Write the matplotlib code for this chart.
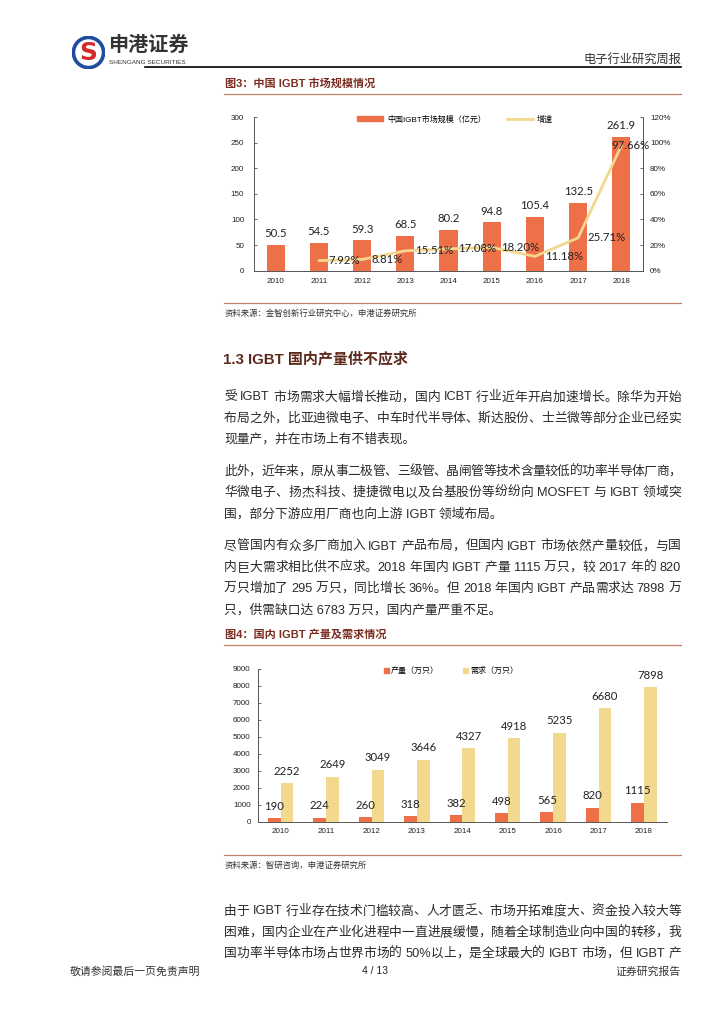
import numpy as np
import matplotlib
matplotlib.use('Agg')
import matplotlib.pyplot as plt
from matplotlib.patches import Patch, Circle
from matplotlib.lines import Line2D
from matplotlib.ticker import FuncFormatter

# ---------------- data ----------------
years = ['2010', '2011', '2012', '2013', '2014', '2015', '2016', '2017', '2018']
market_size = [50.5, 54.5, 59.3, 68.5, 80.2, 94.8, 105.4, 132.5, 261.9]
growth_years = ['2011', '2012', '2013', '2014', '2015', '2016', '2017', '2018']
growth_pct = [7.92, 8.81, 15.51, 17.08, 18.20, 11.18, 25.71, 97.66]
production = [190, 224, 260, 318, 382, 498, 565, 820, 1115]
demand = [2252, 2649, 3049, 3646, 4327, 4918, 5235, 6680, 7898]
left1_ticks = [0, 50, 100, 150, 200, 250, 300]
right1_ticks = [0, 20, 40, 60, 80, 100, 120]
left2_ticks = [0, 1000, 2000, 3000, 4000, 5000, 6000, 7000, 8000, 9000]

legend1 = ['中国IGBT市场规模（亿元）', '增速']
legend2 = ['产量（万只）', '需求（万只）']

para1 = ["受 IGBT 市场需求大幅增长推动，国内 ICBT 行业近年开启加速增长。除华为开始",
         "布局之外，比亚迪微电子、中车时代半导体、斯达股份、士兰微等部分企业已经实",
         "现量产，并在市场上有不错表现。"]
para2 = ["此外，近年来，原从事二极管、三级管、晶闸管等技术含量较低的功率半导体厂商，",
         "华微电子、扬杰科技、捷捷微电以及台基股份等纷纷向 MOSFET 与 IGBT 领域突",
         "围，部分下游应用厂商也向上游 IGBT 领域布局。"]
para3 = ["尽管国内有众多厂商加入 IGBT 产品布局，但国内 IGBT 市场依然产量较低，与国",
         "内巨大需求相比供不应求。2018 年国内 IGBT 产量 1115 万只，较 2017 年的 820",
         "万只增加了 295 万只，同比增长 36%。但 2018 年国内 IGBT 产品需求达 7898 万",
         "只，供需缺口达 6783 万只，国内产量严重不足。"]
para4 = ["由于 IGBT 行业存在技术门槛较高、人才匮乏、市场开拓难度大、资金投入较大等",
         "困难，国内企业在产业化进程中一直进展缓慢，随着全球制造业向中国的转移，我",
         "国功率半导体市场占世界市场的 50%以上，是全球最大的 IGBT 市场，但 IGBT 产"]

# ---------------- style ----------------
plt.rcParams['font.family'] = ['Liberation Sans', 'Noto Sans CJK SC']
ORANGE = '#EE7049'
YELLOW_BAR = '#F2D98D'
YELLOW_LINE = '#F3D78E'
SPINE = '#555555'
TITLE_COL = '#7B2C20'
HEAD_COL = '#5C2A1C'
RULE_COL = '#C0806A'
BODY_COL = '#2A2A2A'
LABEL_FONT = ['Lato', 'DejaVu Sans']
TICK_SIZE = 5.8

W, H = 724, 1024
fig = plt.figure(figsize=(7.24, 10.24), dpi=100)


def fx(x):
    return x / W


def fy(y):
    return 1 - y / H


def ftext(x, y, s, **kw):
    return fig.text(fx(x), fy(y), s, **kw)


def hline(x0, x1, y, color, lw):
    fig.add_artist(Line2D([fx(x0), fx(x1)], [fy(y), fy(y)], color=color, lw=lw,
                          transform=fig.transFigure))


# ---------------- header ----------------
axl = fig.add_axes([fx(72), fy(69), 33 / W, 33 / H])
axl.set_xlim(-1, 1)
axl.set_ylim(-1, 1)
axl.axis('off')
axl.add_patch(Circle((0, 0), 0.98, color='#1F4C9E'))
axl.add_patch(Circle((0, 0), 0.76, color='white'))
axl.text(0, -0.04, 'S', ha='center', va='center', fontsize=18, fontweight='bold',
         color='#D42A2A', family='DejaVu Sans')

ftext(108, 44, '申港证券', fontsize=14.5, fontweight='bold', color='#333333',
      va='center', ha='left', family=['Noto Sans CJK SC'])
ftext(109, 63, 'SHENGANG SECURITIES', fontsize=4.6, color='#333333', va='center', ha='left')
ftext(681, 59.5, '电子行业研究周报', fontsize=8.8, color='#333333', va='center', ha='right')
hline(145, 681, 67.3, 'black', 1.2)

# ---------------- figure 3 ----------------
ftext(225, 83.5, '图3：中国 IGBT 市场规模情况', fontsize=8, fontweight='bold',
      color=TITLE_COL, va='center', ha='left')
hline(224, 681, 93.5, RULE_COL, 0.9)

ax1 = fig.add_axes([fx(254), fy(270.7), (643 - 254) / W, (270.7 - 117) / H])
xpos = np.arange(len(years))
ax1.bar(xpos, market_size, width=0.42, color=ORANGE, zorder=2)
ax1.set_xlim(-0.5, len(years) - 0.5)
ax1.set_ylim(0, 300)
ax1.set_yticks(left1_ticks)
ax1.set_xticks(xpos, years)
ax1.tick_params(axis='y', direction='in', length=2.5, width=0.6, color=SPINE,
                labelcolor='#222222', labelsize=TICK_SIZE, pad=7)
ax1.tick_params(axis='x', length=0, labelcolor='#222222', labelsize=TICK_SIZE, pad=5)
for s in ['top', 'right']:
    ax1.spines[s].set_visible(False)
for s in ['left', 'bottom']:
    ax1.spines[s].set_color(SPINE)
    ax1.spines[s].set_linewidth(0.7)
for i, v in enumerate(market_size):
    ax1.annotate(f'{v}', (xpos[i], v), xytext=(0, 8), textcoords='offset points',
                 ha='center', va='center', fontsize=8.2, color='#222222', family=LABEL_FONT)

ax2 = ax1.twinx()
ax2.set_ylim(0, 120)
ax2.set_yticks(right1_ticks)
ax2.yaxis.set_major_formatter(FuncFormatter(lambda v, _: f'{v:.0f}%'))
ax2.tick_params(axis='y', direction='in', length=2.5, width=0.6, color=SPINE,
                labelcolor='#222222', labelsize=TICK_SIZE, pad=5)
for s in ['top', 'left', 'bottom']:
    ax2.spines[s].set_visible(False)
ax2.spines['right'].set_color(SPINE)
ax2.spines['right'].set_linewidth(0.7)
gx = [years.index(y) for y in growth_years]
ax2.plot(gx, growth_pct, color=YELLOW_LINE, lw=2, solid_capstyle='round',
         solid_joinstyle='round', zorder=3)
for j, (xg, g) in enumerate(zip(gx, growth_pct)):
    if j == len(growth_pct) - 1:
        ax2.annotate(f'{g:.2f}%', (xg, g), xytext=(6.5, 0), textcoords='offset points',
                     ha='center', va='center', fontsize=8.2, color='#222222', family=LABEL_FONT)
    else:
        ax2.annotate(f'{g:.2f}%', (xg, g), xytext=(7, 0), textcoords='offset points',
                     ha='left', va='center', fontsize=8.2, color='#222222', family=LABEL_FONT)

h1 = [Patch(color=ORANGE, label=legend1[0]),
      Line2D([], [], color=YELLOW_LINE, lw=2, label=legend1[1])]
ax2.legend(handles=h1, loc='center', bbox_to_anchor=(fx(455), fy(119.5)),
           bbox_transform=fig.transFigure, ncol=2, frameon=False,
           prop={'size': 5.8}, handlelength=3.2, handleheight=0.6,
           columnspacing=2.6, handletextpad=0.5, borderpad=0)

hline(224, 681, 303.3, RULE_COL, 0.9)
ftext(225, 313.5, '资料来源：金智创新行业研究中心，申港证券研究所', fontsize=6,
      color='#333333', va='center', ha='left', style='italic')

# ---------------- section heading ----------------
ftext(223, 358.5, '1.3 IGBT 国内产量供不应求', fontsize=10.8, fontweight='bold',
      color=HEAD_COL, va='center', ha='left')

# ---------------- body text with justification ----------------
BODY_SIZE = 9.2
X0, X1 = 224, 681
renderer = fig.canvas.get_renderer()


def ink_width(s):
    t = fig.text(0, 0, s, fontsize=BODY_SIZE)
    w = t.get_window_extent(renderer=renderer).width
    t.remove()
    return w


def tokens_of(s):
    toks = []
    i, n = 0, len(s)
    while i < n:
        j = i
        while j < n and s[j] == ' ':
            j += 1
        if j >= n:
            break
        if s[j].isascii():
            k = j
            while k < n and s[k].isascii() and s[k] != ' ':
                k += 1
        else:
            k = j + 1
        toks.append((i, k))
        i = k
    return toks


def body_line(s, yc, justify=True):
    yb = yc + 4.5
    if not justify:
        ftext(X0, yb, s, fontsize=BODY_SIZE, color=BODY_COL, ha='left', va='baseline')
        return
    toks = tokens_of(s)
    ends = [ink_width(s[:e]) for (_, e) in toks]
    gap = ((X1 - X0) - ends[-1]) / (len(toks) - 1)
    for i, ((b, e), we) in enumerate(zip(toks, ends)):
        piece = s[b:e].strip()
        ftext(X0 + we + i * gap, yb, piece, fontsize=BODY_SIZE, color=BODY_COL,
              ha='right', va='baseline')


def paragraph(lines, y0, step=21.3, last_full=False):
    for k, ln in enumerate(lines):
        just = (k < len(lines) - 1) or last_full
        body_line(ln, y0 + k * step, justify=just)


paragraph(para1, 396)
paragraph(para2, 470.5)
paragraph(para3, 545)
paragraph(para4, 910, last_full=True)

# ---------------- figure 4 ----------------
ftext(225, 635, '图4：国内 IGBT 产量及需求情况', fontsize=8, fontweight='bold',
      color=TITLE_COL, va='center', ha='left')
hline(224, 681, 645, RULE_COL, 0.9)

ax3 = fig.add_axes([fx(258), fy(821.7), (666.7 - 258) / W, (821.7 - 668.5) / H])
bw = 0.28
ax3.bar(xpos - bw / 2, production, width=bw, color=ORANGE, zorder=2)
ax3.bar(xpos + bw / 2, demand, width=bw, color=YELLOW_BAR, zorder=2)
ax3.set_xlim(-0.5, len(years) - 0.5)
ax3.set_ylim(0, 9000)
ax3.set_yticks(left2_ticks)
ax3.set_xticks(xpos, years)
ax3.tick_params(axis='y', direction='in', length=2.5, width=0.6, color=SPINE,
                labelcolor='#222222', labelsize=TICK_SIZE, pad=5.3)
ax3.tick_params(axis='x', length=0, labelcolor='#222222', labelsize=TICK_SIZE, pad=4.5)
for s in ['top', 'right']:
    ax3.spines[s].set_visible(False)
for s in ['left', 'bottom']:
    ax3.spines[s].set_color(SPINE)
    ax3.spines[s].set_linewidth(0.7)
for i in range(len(years)):
    ax3.annotate(f'{production[i]}', (xpos[i] - bw / 2, production[i]), xytext=(0, 8.6),
                 textcoords='offset points', ha='center', va='center', fontsize=8.2,
                 color='#222222', family=LABEL_FONT)
    ax3.annotate(f'{demand[i]}', (xpos[i] + bw / 2, demand[i]), xytext=(0, 8.6),
                 textcoords='offset points', ha='center', va='center', fontsize=8.2,
                 color='#222222', family=LABEL_FONT)

h2 = [Patch(color=ORANGE, label=legend2[0]), Patch(color=YELLOW_BAR, label=legend2[1])]
ax3.legend(handles=h2, loc='center', bbox_to_anchor=(fx(451), fy(671)),
           bbox_transform=fig.transFigure, ncol=2, frameon=False,
           prop={'size': 5.8}, handlelength=0.6, handleheight=0.6,
           columnspacing=3.0, handletextpad=0.3, borderpad=0)

hline(224, 681, 854.5, RULE_COL, 0.9)
ftext(225, 866, '资料来源：智研咨询，申港证券研究所', fontsize=6, color='#333333',
      va='center', ha='left', style='italic')

# ---------------- footer ----------------
ftext(70, 971.5, '敬请参阅最后一页免责声明', fontsize=7.8, color='#333333', va='center', ha='left')
ftext(375, 971.5, '4 / 13', fontsize=7.5, color='#222222', va='center', ha='center')
ftext(681, 971.5, '证券研究报告', fontsize=7.8, color='#333333', va='center', ha='right')

fig.savefig('out.png', dpi=100)
